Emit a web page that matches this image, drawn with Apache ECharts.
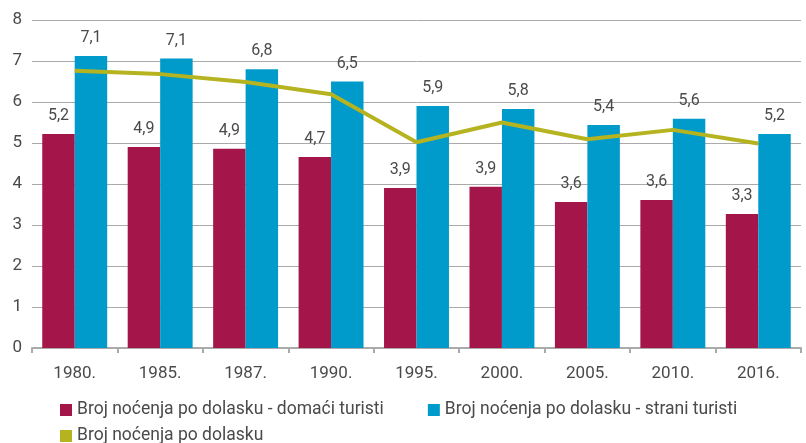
<!DOCTYPE html>
<html>
<head>
<meta charset="utf-8">
<script src="https://cdn.jsdelivr.net/npm/echarts@6/dist/echarts.min.js"></script>
<style>
  html, body { margin: 0; padding: 0; background: #fff; }
  #chart { width: 806px; height: 443px; }
</style>
</head>
<body>
<div id="chart"></div>
<script>
// podaci
var godine = ['1980.', '1985.', '1987.', '1990.', '1995.', '2000.', '2005.', '2010.', '2016.'];
var domaci = [5.22, 4.90, 4.86, 4.66, 3.90, 3.93, 3.56, 3.61, 3.27];
var strani = [7.12, 7.06, 6.80, 6.50, 5.90, 5.83, 5.44, 5.59, 5.22];
var ukupno = [6.76, 6.68, 6.49, 6.19, 5.02, 5.50, 5.09, 5.32, 4.99];
var yTicks = [0, 1, 2, 3, 4, 5, 6, 7, 8];

var nazivDomaci = 'Broj noćenja po dolasku - domaći turisti';
var nazivStrani = 'Broj noćenja po dolasku - strani turisti';
var nazivUkupno = 'Broj noćenja po dolasku';

var font = 'Roboto';
var textColor = '#4a4a4a';

function zarez(v) {
  return v.toFixed(1).replace('.', ',');
}

var barLabel = {
  show: true,
  position: 'top',
  distance: 10,
  color: textColor,
  fontFamily: font,
  fontSize: 16,
  formatter: function(p) { return zarez(p.value); }
};

var legendText = { color: textColor, fontSize: 17.5, fontFamily: font };

var myChart = echarts.init(document.getElementById('chart'));

var option = {
  animation: false,
  textStyle: { fontFamily: font },
  grid: { left: 32, right: 5, top: 20, bottom: 95 },
  legend: [{
    data: [nazivDomaci, nazivStrani],
    left: 55,
    top: 396,
    icon: 'rect',
    itemWidth: 12,
    itemHeight: 12,
    itemGap: 44,
    textStyle: legendText
  }, {
    data: [nazivUkupno],
    left: 55,
    top: 422,
    icon: 'rect',
    itemWidth: 12,
    itemHeight: 12,
    textStyle: legendText
  }],
  xAxis: {
    type: 'category',
    data: godine,
    axisLine: { lineStyle: { color: '#aaaaaa', width: 2 } },
    axisTick: { show: true, length: 5, lineStyle: { color: '#aaaaaa', width: 2 } },
    axisLabel: { color: textColor, fontSize: 17, margin: 17, fontFamily: font }
  },
  yAxis: {
    type: 'value',
    min: yTicks[0],
    max: yTicks[yTicks.length - 1],
    interval: 1,
    axisLine: { show: false },
    axisTick: { show: false },
    axisLabel: { color: textColor, fontSize: 17, margin: 10, fontFamily: font },
    splitLine: { lineStyle: { color: '#aaaaaa', width: 1 } }
  },
  series: [{
    name: nazivDomaci,
    type: 'bar',
    data: domaci,
    barGap: '0%',
    barCategoryGap: '24%',
    itemStyle: { color: '#a4164a' },
    label: barLabel
  }, {
    name: nazivStrani,
    type: 'bar',
    data: strani,
    barGap: '0%',
    barCategoryGap: '24%',
    itemStyle: { color: '#009bca' },
    label: barLabel
  }, {
    name: nazivUkupno,
    type: 'line',
    data: ukupno,
    showSymbol: false,
    symbol: 'none',
    itemStyle: { color: '#b5b420' },
    lineStyle: { color: '#b5b420', width: 4 },
    z: 5
  }]
};

myChart.setOption(option);
</script>
</body>
</html>
